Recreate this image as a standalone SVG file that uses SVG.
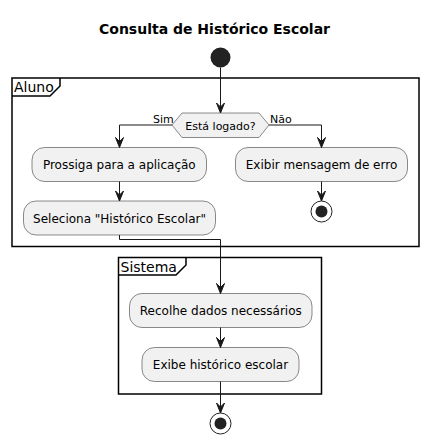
<svg xmlns="http://www.w3.org/2000/svg" width="429" height="445" viewBox="0 0 429 445">
<style>
text{font-family:"DejaVu Sans","Liberation Sans",sans-serif;fill:#000}
.t{font-size:14px;font-weight:bold}
.a{font-size:12px}
.s{font-size:11px}
.f{font-size:14px}
.act{fill:#F1F1F1;stroke:#181818;stroke-width:0.5}
.frame{fill:none;stroke:#000;stroke-width:1.5}
.ln{fill:none;stroke:#181818;stroke-width:1}
.ah{fill:#181818;stroke:#181818;stroke-width:1}
</style>
<rect width="429" height="445" fill="#fff"/>
<text class="t" x="214.5" y="34" text-anchor="middle">Consulta de Histórico Escolar</text>
<g id="aluno">
<rect class="frame" x="12" y="78" width="407" height="168.5"/>
<path class="frame" d="M12,96 H50 L60,86 V78"/>
<text class="f" x="14" y="92">Aluno</text>
</g>
<g id="sistema">
<rect class="frame" x="118.5" y="257.5" width="203" height="136.5"/>
<path class="frame" d="M118.5,275 H176 L186,265 V257.5"/>
<text class="f" x="120.5" y="271.5">Sistema</text>
</g>
<g id="start"><circle cx="220.5" cy="57.5" r="10" fill="#222222"/></g>
<g id="decision">
<polygon class="act" points="172,125 182,113 259,113 269,125 259,137.5 182,137.5"/>
<text class="s" x="220.5" y="129.5" text-anchor="middle">Está logado?</text>
</g>
<g id="prossiga">
<rect class="act" x="32" y="147.5" width="174.5" height="34" rx="12.5"/>
<text class="a" x="119.3" y="169" text-anchor="middle">Prossiga para a aplicação</text>
</g>
<g id="exibir">
<rect class="act" x="235.5" y="147.5" width="172" height="34" rx="12.5"/>
<text class="a" x="321.5" y="169" text-anchor="middle">Exibir mensagem de erro</text>
</g>
<g id="seleciona">
<rect class="act" x="23.5" y="201" width="192" height="34" rx="12.5"/>
<text class="a" x="119.5" y="222.5" text-anchor="middle">Seleciona "Histórico Escolar"</text>
</g>
<g id="stop1">
<circle cx="321.5" cy="211.5" r="10.5" fill="none" stroke="#222222" stroke-width="1"/>
<circle cx="321.5" cy="211.5" r="6" fill="#222222"/>
</g>
<g id="recolhe">
<rect class="act" x="129.5" y="293.5" width="182.5" height="34" rx="12.5"/>
<text class="a" x="220.8" y="315" text-anchor="middle">Recolhe dados necessários</text>
</g>
<g id="exibe">
<rect class="act" x="142" y="347.5" width="157" height="34" rx="12.5"/>
<text class="a" x="220.5" y="369" text-anchor="middle">Exibe histórico escolar</text>
</g>
<g id="stop2">
<circle cx="220.5" cy="423.5" r="10.5" fill="none" stroke="#222222" stroke-width="1"/>
<circle cx="220.5" cy="423.5" r="6" fill="#222222"/>
</g>
<g id="connectors">
<path class="ln" d="M220.5,67.5 V113"/>
<polygon class="ah" points="216.5,103 220.5,113 224.5,103 220.5,107"/>
<path class="ln" d="M172,125 H119.5 V147.5"/>
<polygon class="ah" points="115.5,137.5 119.5,147.5 123.5,137.5 119.5,141.5"/>
<path class="ln" d="M269,125 H321.5 V147.5"/>
<polygon class="ah" points="317.5,137.5 321.5,147.5 325.5,137.5 321.5,141.5"/>
<text class="s" x="153" y="122.5">Sim</text>
<text class="s" x="270" y="122.5">Não</text>
<path class="ln" d="M119.5,181.5 V201"/>
<polygon class="ah" points="115.5,191 119.5,201 123.5,191 119.5,195"/>
<path class="ln" d="M321.5,181.5 V201"/>
<polygon class="ah" points="317.5,191 321.5,201 325.5,191 321.5,195"/>
<path class="ln" d="M119.5,235 V239.5 H220.5 V293.5"/>
<polygon class="ah" points="216.5,283.5 220.5,293.5 224.5,283.5 220.5,287.5"/>
<path class="ln" d="M220.5,327.5 V347.5"/>
<polygon class="ah" points="216.5,337.5 220.5,347.5 224.5,337.5 220.5,341.5"/>
<path class="ln" d="M220.5,381.5 V413"/>
<polygon class="ah" points="216.5,403 220.5,413 224.5,403 220.5,407"/>
</g>
</svg>
